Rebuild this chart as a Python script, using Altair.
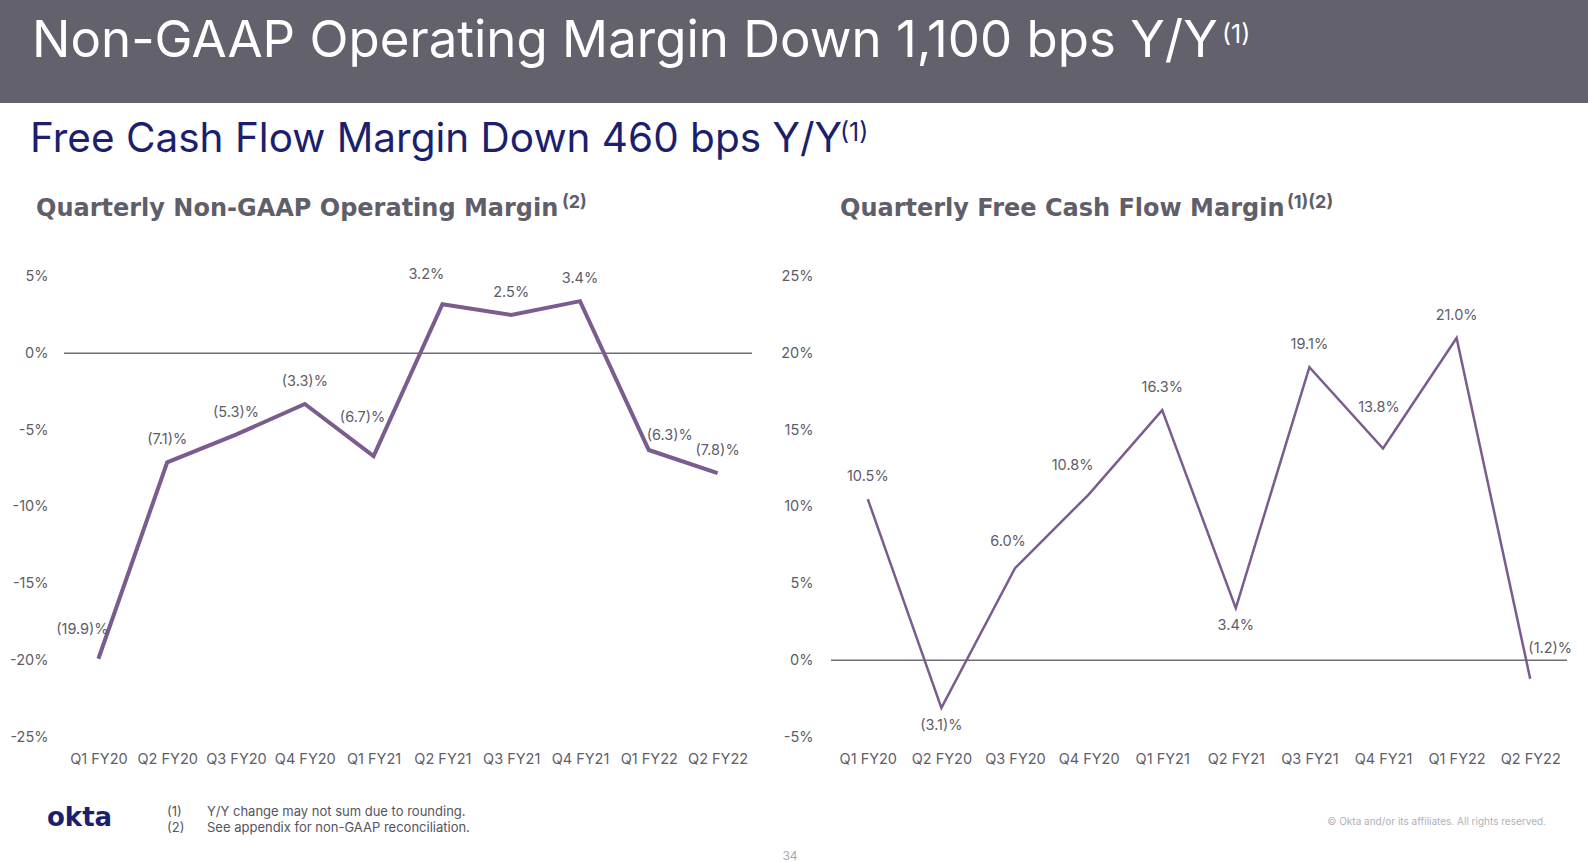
import altair as alt
import pandas as pd

# ---------------- data ----------------
quarters = ["Q1 FY20", "Q2 FY20", "Q3 FY20", "Q4 FY20", "Q1 FY21",
            "Q2 FY21", "Q3 FY21", "Q4 FY21", "Q1 FY22", "Q2 FY22"]
op_margin = [-19.9, -7.1, -5.3, -3.3, -6.7, 3.2, 2.5, 3.4, -6.3, -7.8]
fcf_margin = [10.5, -3.1, 6.0, 10.8, 16.3, 3.4, 19.1, 13.8, 21.0, -1.2]
op_ticks = [-25, -20, -15, -10, -5, 0, 5]
fcf_ticks = [-5, 0, 5, 10, 15, 20, 25]
# where each data label sits relative to its point
op_label_place = ["upper-left", "above", "above", "above", "high-left",
                  "upper-left", "above", "above", "upper-right", "above"]
fcf_label_place = ["above", "below", "slight-left", "upper-left", "above",
                   "below", "above", "high", "above", "right"]

title_text = "Non-GAAP Operating Margin Down 1,100 bps Y/Y"
subtitle_text = "Free Cash Flow Margin Down 460 bps Y/Y"
left_title = "Quarterly Non-GAAP Operating Margin"
right_title = "Quarterly Free Cash Flow Margin"
footnotes = ["Y/Y change may not sum due to rounding.",
             "See appendix for non-GAAP reconciliation."]

# ---------------- style ----------------
FONT = "Inter"
GRAY = "#5e5d68"
LINE = "#7a5c8f"
NAVY = "#1b1f6e"
PLACE = {
    "above": (0, -22),
    "below": (0, 18),
    "upper-left": (-16, -29),
    "slight-left": (-7, -26),
    "high-left": (-11, -38),
    "high": (-4, -40),
    "upper-right": (21, -14),
    "right": (20, -30),
}


def fmt(v):
    return f"({abs(v):.1f})%" if v < 0 else f"{v:.1f}%"


def make_df(values, places):
    return pd.DataFrame({
        "quarter": quarters,
        "value": values,
        "label": [fmt(v) for v in values],
        "place": places,
    })


one = pd.DataFrame({"a": [0]})


def txt(text, x, y, size, color, weight="normal", align="left", baseline="alphabetic", font=FONT):
    return alt.Chart(one).mark_text(
        text=text, align=align, baseline=baseline, font=font,
        fontSize=size, fontWeight=weight, color=color
    ).encode(x=alt.value(x), y=alt.value(y))


def panel(values, places, ticks, xrange, yaxis_x, stroke_w):
    df = make_df(values, places)
    xenc = alt.X("quarter:N", sort=quarters, title=None,
                 scale=alt.Scale(type="point", padding=0.5, range=list(xrange)),
                 axis=alt.Axis(orient="bottom", offset=-110, labelPadding=0, ticks=False,
                               tickSize=0, domain=False, grid=False, labelAngle=0,
                               labelFont=FONT, labelFontSize=14.5, labelColor=GRAY,
                               labelBaseline="top", labelOverlap=False, labelBound=False))
    yenc = alt.Y("value:Q", title=None,
                 scale=alt.Scale(domain=[ticks[0], ticks[-1]], range=[737, 276.6], nice=False, zero=False),
                 axis=alt.Axis(orient="left", offset=-yaxis_x, values=ticks, labelPadding=0,
                               ticks=False, tickSize=0, domain=False, grid=False,
                               labelExpr="datum.value + '%'", labelFont=FONT, labelFontSize=14.5,
                               labelColor=GRAY, labelAlign="right", labelOverlap=False,
                               labelBound=False))
    base = alt.Chart(df)
    zero = alt.Chart(pd.DataFrame({"value": [0]})).mark_rule(
        color="#6e6d78", strokeWidth=1.5
    ).encode(y=yenc, x=alt.value(xrange[0]), x2=alt.value(xrange[1]))
    line = base.mark_line(color=LINE, strokeWidth=stroke_w).encode(x=xenc, y=yenc)
    layers = [zero, line]
    for name, (dx, dy) in PLACE.items():
        if name in places:
            layers.append(
                base.transform_filter(alt.datum.place == name).mark_text(
                    dx=dx, dy=dy, font=FONT, fontSize=14.5, color=GRAY,
                    align="center", baseline="middle"
                ).encode(x=xenc, y=yenc, text="label:N")
            )
    return alt.layer(*layers)


left = panel(op_margin, op_label_place, op_ticks, (64, 752), 48, 4)
right = panel(fcf_margin, fcf_label_place, fcf_ticks, (831, 1567), 813, 2.5)

banner = alt.Chart(one).mark_rect(color="#62616c").encode(
    x=alt.value(0), x2=alt.value(1588), y=alt.value(0), y2=alt.value(103))

TITLE_GRAY = "#5f5e69"
decor = [
    banner,
    txt(title_text, 32, 57, 51, "white"),
    txt("(1)", 1222, 43, 25, "white"),
    txt(subtitle_text, 30, 152, 40.5, NAVY),
    txt("(1)", 840, 141, 25, NAVY),
    txt(left_title, 36, 216, 24, TITLE_GRAY, weight="bold", font="DejaVu Sans"),
    txt("(2)", 562, 208, 18, TITLE_GRAY, weight="bold"),
    txt(right_title, 840, 216, 24, TITLE_GRAY, weight="bold", font="DejaVu Sans"),
    txt("(1)(2)", 1287, 208, 18, TITLE_GRAY, weight="bold"),
    txt("okta", 47, 826, 26, NAVY, weight="bold", font="DejaVu Sans"),
    txt("(1)", 167, 816, 13, "#55545f"),
    txt("(2)", 167, 832, 13, "#55545f"),
    txt(footnotes[0], 207, 816, 13, "#55545f"),
    txt(footnotes[1], 207, 832, 13, "#55545f"),
    txt("34", 790, 856, 12, "#a9a9b0", align="center", baseline="middle"),
    txt("\u00a9 Okta and/or its affiliates. All rights reserved.", 1546, 825, 10, "#b0b0b5", align="right"),
]

chart = alt.layer(*decor, left, right).resolve_scale(
    x="independent", y="independent"
).properties(
    width=1588, height=862, padding=0,
    autosize=alt.AutoSizeParams(type="none"),
    background="white",
).configure_view(stroke=None)

chart.save("out.html", embed_options={"renderer": "svg", "actions": False})
